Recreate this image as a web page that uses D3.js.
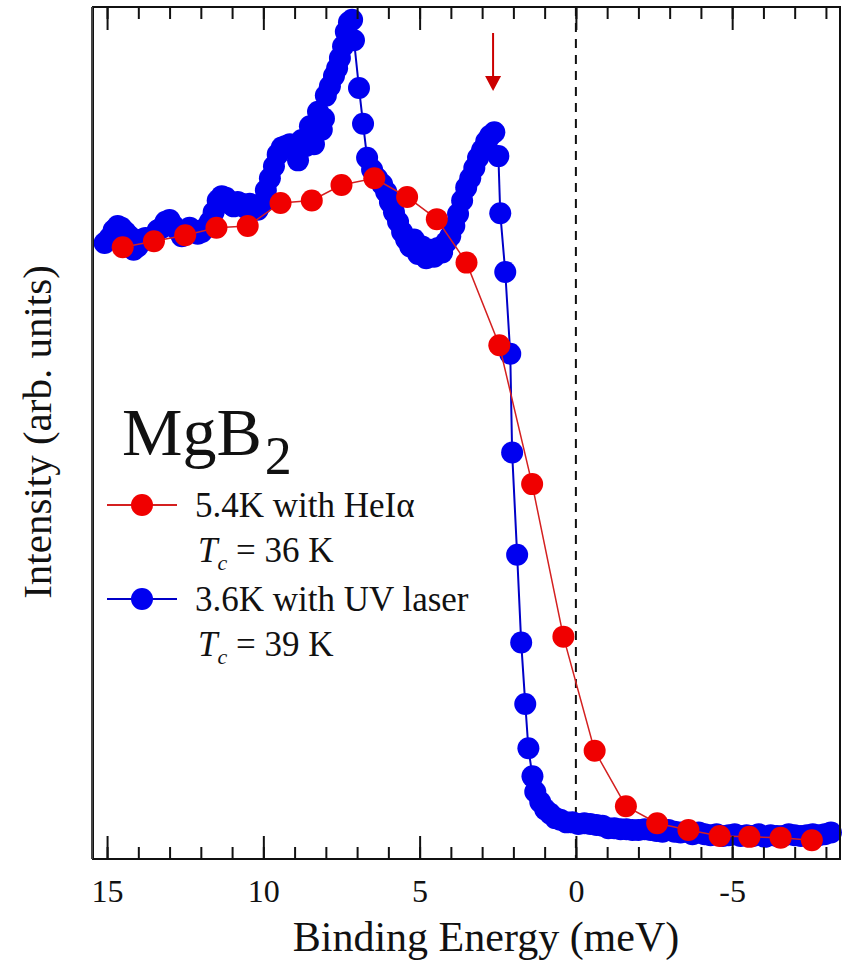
<!DOCTYPE html>
<html>
<head>
<meta charset="utf-8">
<script src="https://cdn.jsdelivr.net/npm/d3@7"></script>
<style>
  body { margin: 0; background: #fff; }
  text { font-family: "Liberation Serif", "Times New Roman", serif; fill: #111; }
</style>
</head>
<body>
<div class="chart-container"></div>
<script>
// HeIa data (5.4 K)
const energyRed = [14.5, 13.5, 12.5, 11.5, 10.5, 9.45, 8.45, 7.5, 6.45, 5.4, 4.45, 3.5, 2.45, 1.4, 0.4,
    -0.6, -1.6, -2.6, -3.6, -4.6, -5.55, -6.55, -7.55];
const intensityRed = [71.8, 72.5, 73.2, 74.1, 74.3, 77.0, 77.3, 79.1, 79.9, 77.7, 75.1, 70.0, 60.3, 44.0, 26.1,
    12.7, 6.2, 4.2, 3.4, 2.7, 2.6, 2.5, 2.2];

// UV laser data (3.6 K)
const energyBlue = [15.08, 14.92, 14.79, 14.66, 14.54, 14.41, 14.28, 14.15, 14.02, 13.89, 13.77, 13.64, 13.51, 13.38,
    13.25, 13.13, 13.00, 12.87, 12.74, 12.61, 12.48, 12.36, 12.23, 12.10, 11.97, 11.84, 11.71, 11.59, 11.46, 11.33,
    11.20, 11.07, 10.95, 10.82, 10.69, 10.56, 10.43, 10.30, 10.18, 10.05, 9.92, 9.79, 9.66, 9.54, 9.41, 9.28, 9.15,
    9.02, 8.89, 8.77, 8.64, 8.51, 8.38, 8.25, 8.13, 8.06, 8.00, 7.87, 7.74, 7.64, 7.55, 7.45, 7.36, 7.26, 7.16, 7.10,
    6.94, 6.81, 6.68, 6.52, 6.36, 6.20, 6.07, 5.95, 5.82, 5.69, 5.56, 5.43, 5.30, 5.18, 5.05, 4.92, 4.79, 4.66, 4.54,
    4.41, 4.28, 4.15, 4.02, 3.89, 3.77, 3.64, 3.51, 3.38, 3.25, 3.13, 3.00, 2.87, 2.74, 2.61, 2.48, 2.42, 2.26, 2.10,
    2.04, 1.88, 1.75, 1.62, 1.52, 1.39, 1.30, 1.14, 0.98, 0.82, 0.66, 0.50, 0.30, 0.11, -0.08, -0.27, -0.46, -0.66,
    -0.85, -1.04, -1.23, -1.43, -1.62, -1.81, -2.00, -2.20, -2.39, -2.58, -2.77, -2.96, -3.16, -3.35, -3.54, -3.73,
    -3.93, -4.12, -4.31, -4.50, -4.70, -4.89, -5.08, -5.27, -5.46, -5.66, -5.85, -6.04, -6.23, -6.43, -6.62, -6.81,
    -7.00, -7.20, -7.39, -7.58, -7.77, -7.96, -8.16];
const intensityBlue = [72.3, 72.9, 73.8, 74.3, 74.1, 73.6, 73.1, 71.5, 71.9, 72.7, 72.9, 72.7, 73.1, 73.8,
    74.1, 74.8, 75.0, 74.3, 73.8, 73.1, 73.6, 74.1, 73.8, 73.4, 73.6, 74.1, 74.8, 75.9, 77.3, 77.8,
    77.6, 76.9, 76.6, 77.1, 76.9, 76.4, 76.9, 76.6, 76.2, 76.9, 78.5, 79.9, 81.3, 82.7, 83.5, 83.7, 83.9,
    83.7, 82.0, 84.4, 83.7, 86.0, 83.9, 87.7, 85.6, 86.9, 89.6, 90.7, 91.9, 92.8, 94.0, 95.4, 97.1, 98.2, 98.5, 96.1,
    90.5, 86.3, 82.3, 80.9, 79.9, 79.2, 78.3, 77.1, 75.9, 74.8, 73.6, 72.7, 71.9, 72.7, 71.0, 71.9, 70.5, 71.5, 70.7,
    71.7, 71.2, 72.4, 73.1, 74.3, 75.7, 77.3, 78.8, 79.9, 81.1, 82.3, 83.2, 84.2, 84.9, 85.3, 82.5, 75.8, 68.9, 59.3,
    47.7, 35.7, 25.4, 18.2, 13.0, 9.7, 7.9, 6.7, 5.8, 5.3, 4.8, 4.6, 4.3, 4.3, 4.1, 4.2, 4.1, 4.0,
    3.9, 3.6, 3.6, 3.5, 3.5, 3.4, 3.4, 3.5, 3.4, 3.3, 3.2, 3.4, 3.2, 3.1, 3.2, 2.9,
    3.1, 2.9, 2.8, 2.9, 2.7, 2.8, 2.9, 2.7, 2.8, 2.7, 2.9, 2.6, 2.8, 2.7, 2.7, 2.9,
    2.8, 2.7, 2.8, 2.9, 2.8, 2.9, 3.1];

const majorTicks = [15, 10, 5, 0, -5];
const minorTicks = [15, 14, 13, 12, 11, 10, 9, 8, 7, 6, 5, 4, 3, 2, 1, 0, -1, -2, -3, -4, -5, -6, -7, -8];
const legendLabels = ['5.4K with HeI\u03b1', '3.6K with UV laser'];
const legendTc = ['36 K', '39 K'];
const seriesColors = ['#f00000', '#0000f0'];
const lineColors = ['#d42020', '#0000c8'];
const arrowEnergy = 2.65;

const width = 844;
const height = 962;
const marginTop = 7;
const marginBottom = 103;
const marginLeft = 93;
const marginRight = 4;

const x = d3.scaleLinear()
    .domain([15.45, -8.45])
    .range([marginLeft, width - marginRight]);

const y = d3.scaleLinear()
    .domain([0, 100])
    .range([height - marginBottom, marginTop]);

const svg = d3.select('.chart-container').append('svg')
    .attr('width', width)
    .attr('height', height);

// Fermi level
svg.append('line')
    .attr('x1', x(0)).attr('x2', x(0))
    .attr('y1', y(100)).attr('y2', y(0))
    .attr('stroke', '#111')
    .attr('stroke-width', 2)
    .attr('stroke-dasharray', '9,7');

// series
const blue = energyBlue.map((e, i) => ({ e: e, v: intensityBlue[i] }));
const red = energyRed.map((e, i) => ({ e: e, v: intensityRed[i] }));
const line = d3.line().x(d => x(d.e)).y(d => y(d.v));

[blue, red].forEach((data, k) => {
    const idx = k === 0 ? 1 : 0;
    svg.append('path')
        .datum(data)
        .attr('d', line)
        .attr('fill', 'none')
        .attr('stroke', lineColors[idx])
        .attr('stroke-width', idx === 1 ? 2 : 1.5);
    svg.append('g')
        .selectAll('circle')
        .data(data)
        .enter()
        .append('circle')
        .attr('cx', d => x(d.e))
        .attr('cy', d => y(d.v))
        .attr('r', 11)
        .attr('fill', seriesColors[idx]);
});

// axes
const xBottom = height - marginBottom;
svg.append('g')
    .attr('transform', `translate(0,${xBottom})`)
    .call(d3.axisBottom(x).tickValues(minorTicks).tickSize(-12).tickFormat(''));
const bottomMajor = svg.append('g')
    .attr('transform', `translate(0,${xBottom})`)
    .call(d3.axisBottom(x).tickValues(majorTicks).tickSize(-23).tickPadding(20).tickFormat(d3.format('d')));
bottomMajor.selectAll('text')
    .style('font-family', '"Liberation Serif", serif')
    .style('font-size', '32px')
    .attr('fill', '#111')
    .text(d => d < 0 ? '-' + (-d) : d);
svg.append('g')
    .attr('transform', `translate(0,${marginTop})`)
    .call(d3.axisTop(x).tickValues(minorTicks).tickSize(-12).tickFormat(''));
svg.append('g')
    .attr('transform', `translate(0,${marginTop})`)
    .call(d3.axisTop(x).tickValues(majorTicks).tickSize(-23).tickFormat(''));
svg.selectAll('.tick line').attr('stroke', '#111').attr('stroke-width', 2);
svg.selectAll('.domain').remove();

// frame
svg.append('rect')
    .attr('x', marginLeft).attr('y', marginTop)
    .attr('width', width - marginLeft - marginRight)
    .attr('height', height - marginTop - marginBottom)
    .attr('fill', 'none')
    .attr('stroke', '#111')
    .attr('stroke-width', 2);
svg.append('line')
    .attr('x1', marginLeft - 1).attr('x2', marginLeft - 1)
    .attr('y1', marginTop).attr('y2', xBottom)
    .attr('stroke', '#444').attr('stroke-width', 2);

// arrow marking the coherence peak
const ax = x(arrowEnergy);
svg.append('line')
    .attr('x1', ax).attr('x2', ax)
    .attr('y1', 33).attr('y2', 78)
    .attr('stroke', '#cc0000').attr('stroke-width', 2);
svg.append('path')
    .attr('d', `M${ax - 8},76 L${ax + 8},76 L${ax},91 Z`)
    .attr('fill', '#cc0000');

// axis titles
svg.append('text')
    .attr('x', 486).attr('y', 951)
    .attr('text-anchor', 'middle')
    .style('font-size', '42px')
    .text('Binding Energy (meV)');
svg.append('text')
    .attr('transform', 'translate(51,432) rotate(-90)')
    .attr('text-anchor', 'middle')
    .style('font-size', '41px')
    .text('Intensity (arb. units)');

// sample label
const mg = svg.append('text').attr('x', 122).attr('y', 455).style('font-size', '68px');
mg.append('tspan').text('MgB');
mg.append('tspan').attr('dx', 3).attr('dy', 19).style('font-size', '54px').text('2');

// legend
const legendY = [505, 599];
legendLabels.forEach((lab, i) => {
    const ly = legendY[i];
    svg.append('line')
        .attr('x1', 107).attr('x2', 177)
        .attr('y1', ly).attr('y2', ly)
        .attr('stroke', lineColors[i]).attr('stroke-width', 2);
    svg.append('circle')
        .attr('cx', 142).attr('cy', ly).attr('r', 11)
        .attr('fill', seriesColors[i]);
    svg.append('text')
        .attr('x', 195).attr('y', ly + 12)
        .style('font-size', '35px')
        .text(lab);
    const tc = svg.append('text')
        .attr('x', 198).attr('y', ly + 57)
        .style('font-size', '35px');
    tc.append('tspan').style('font-style', 'italic').text('T');
    tc.append('tspan').attr('dy', 8).style('font-style', 'italic').style('font-size', '22px').text('c');
    tc.append('tspan').attr('dy', -8).text(' = ' + legendTc[i]);
});
</script>
</body>
</html>
